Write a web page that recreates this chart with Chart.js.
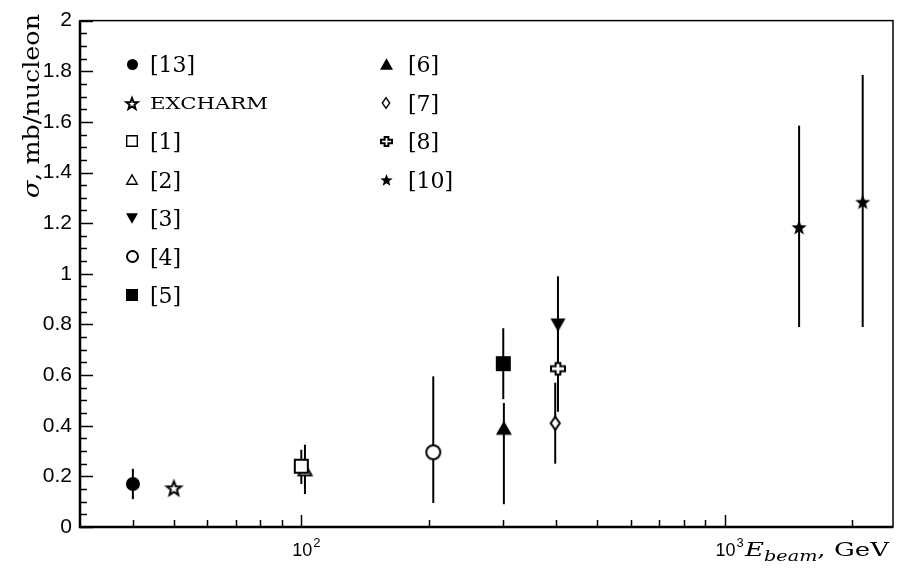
<!DOCTYPE html>
<html>
<head>
<meta charset="utf-8">
<script src="https://cdn.jsdelivr.net/npm/chart.js@4"></script>
<style>
    body { margin: 0; background: #fff; }
</style>
</head>
<body>
<canvas id="sigmaChart" width="903" height="574"></canvas>
<script>
// charm production cross section per nucleon vs beam energy
var seriesNames = ['[13]', 'EXCHARM', '[1]', '[2]', '[3]', '[4]', '[5]', '[6]', '[7]', '[8]', '[10]'];
var seriesEnergy = [[40], [50], [100], [102], [404], [205], [300], [301], [398], [404], [1500, 2120]];
var seriesSigma = [[0.17], [0.155], [0.24], [0.225], [0.80], [0.295], [0.645], [0.39], [0.41], [0.625], [1.185, 1.285]];
var seriesLow = [[0.11], [0.155], [0.17], [0.13], [0.63], [0.095], [0.505], [0.09], [0.25], [0.455], [0.79, 0.79]];
var seriesHigh = [[0.23], [0.155], [0.305], [0.325], [0.99], [0.595], [0.785], [0.49], [0.57], [0.80], [1.585, 1.785]];

var xMajorTicks = [100, 1000];
var xMinorTicks = [40, 50, 60, 70, 80, 90, 200, 300, 400, 500, 600, 700, 800, 900, 2000];
var xTickBase = ['10', '10'];
var xTickExp = ['2', '3'];

// marker look for every series
var markerKinds = ['circle', 'star', 'square', 'triangle', 'triangleDown', 'circle', 'square', 'triangle', 'diamond', 'plus', 'star'];
var markerFilled = [true, false, false, false, true, false, true, true, false, false, true];
var markerSizes = [14, 17, 15, 15, 15, 16, 15, 16, 15, 16, 16];

function makeMarker(kind, filled, size) {
    var n = Math.ceil(size) + 4;
    var c = document.createElement('canvas');
    c.width = n;
    c.height = n;
    var g = c.getContext('2d');
    var m = n / 2;
    g.lineWidth = size >= 13 ? 2 : 1.4;
    g.lineJoin = 'miter';
    g.strokeStyle = '#000';
    g.fillStyle = filled ? '#000' : '#fff';
    var s = size / 2 - (filled ? 0 : g.lineWidth / 2);
    g.beginPath();
    if (kind === 'circle') {
        g.arc(m, m, s, 0, 2 * Math.PI);
    } else if (kind === 'square') {
        g.rect(m - s, m - s, 2 * s, 2 * s);
    } else if (kind === 'triangle' || kind === 'triangleDown') {
        var d = kind === 'triangle' ? 1 : -1;
        g.moveTo(m, m - d * s * 0.95);
        g.lineTo(m + s, m + d * s * 0.8);
        g.lineTo(m - s, m + d * s * 0.8);
        g.closePath();
    } else if (kind === 'diamond') {
        g.moveTo(m, m - s);
        g.lineTo(m + s * 0.7, m);
        g.lineTo(m, m + s);
        g.lineTo(m - s * 0.7, m);
        g.closePath();
    } else if (kind === 'plus') {
        var a = s * 0.34, h = s * 0.82;
        var pts = [[-a, -h], [a, -h], [a, -a], [s, -a], [s, a], [a, a], [a, h], [-a, h], [-a, a], [-s, a], [-s, -a], [-a, -a]];
        g.moveTo(m + pts[0][0], m + pts[0][1]);
        for (var i = 1; i < pts.length; i++) g.lineTo(m + pts[i][0], m + pts[i][1]);
        g.closePath();
    } else if (kind === 'star') {
        for (var k = 0; k < 10; k++) {
            var ang = -Math.PI / 2 + k * Math.PI / 5;
            var rr = k % 2 === 0 ? s : s * 0.42;
            var px = m + rr * Math.cos(ang), py = m + 1 + rr * Math.sin(ang);
            if (k === 0) g.moveTo(px, py); else g.lineTo(px, py);
        }
        g.closePath();
    }
    g.fill();
    if (!filled) g.stroke();
    return c;
}

var plotMarkers = [];
var legendMarkers = [];
for (var i = 0; i < seriesNames.length; i++) {
    plotMarkers.push(makeMarker(markerKinds[i], markerFilled[i], markerSizes[i]));
    legendMarkers.push(makeMarker(markerKinds[i], markerFilled[i], Math.round(markerSizes[i] * 0.8)));
}

var datasets = [];
for (var i = 0; i < seriesNames.length; i++) {
    var pts = [];
    for (var j = 0; j < seriesEnergy[i].length; j++) {
        pts.push({ x: seriesEnergy[i][j], y: seriesSigma[i][j] });
    }
    datasets.push({
        label: seriesNames[i],
        data: pts,
        pointStyle: plotMarkers[i],
        pointRadius: 8,
        showLine: false
    });
}

// horizontally stretched text, the TeX lettering is wide
function drawText(ctx, text, x, y, font, width) {
    ctx.save();
    ctx.font = font;
    var w = ctx.measureText(text).width;
    ctx.translate(x, y);
    if (width) ctx.scale(width / w, 1);
    ctx.fillText(text, 0, 0);
    ctx.restore();
}

function drawRun(ctx, parts, x, y, width) {
    var total = 0;
    parts.forEach(function (p) {
        ctx.font = p.font;
        p.w = ctx.measureText(p.text).width;
        total += p.w;
    });
    var k = width / total;
    ctx.save();
    ctx.translate(x, y);
    ctx.scale(k, 1);
    var cx = 0;
    parts.forEach(function (p) {
        ctx.font = p.font;
        ctx.fillText(p.text, cx, p.dy || 0);
        cx += p.w;
    });
    ctx.restore();
}

var errorBarPlugin = {
    id: 'errorBars',
    beforeDatasetsDraw: function (chart) {
        var ctx = chart.ctx, xs = chart.scales.x, ys = chart.scales.y;
        ctx.save();
        ctx.strokeStyle = '#000';
        ctx.lineWidth = 2;
        for (var i = 0; i < seriesNames.length; i++) {
            for (var j = 0; j < seriesEnergy[i].length; j++) {
                var px = xs.getPixelForValue(seriesEnergy[i][j]);
                ctx.beginPath();
                ctx.moveTo(px, ys.getPixelForValue(seriesLow[i][j]));
                ctx.lineTo(px, ys.getPixelForValue(seriesHigh[i][j]));
                ctx.stroke();
            }
        }
        ctx.restore();
    }
};

var framePlugin = {
    id: 'frame',
    afterDraw: function (chart) {
        var ctx = chart.ctx, a = chart.chartArea, xs = chart.scales.x, ys = chart.scales.y;
        ctx.save();
        ctx.strokeStyle = '#000';
        ctx.fillStyle = '#000';

        // inward ticks on the y axis, minor every 0.05
        ctx.lineWidth = 1.5;
        for (var n = 0; n <= 40; n++) {
            var py = Math.round(ys.getPixelForValue(n * 0.05)) + 0.5;
            var len = n % 4 === 0 ? 13 : 7;
            ctx.beginPath();
            ctx.moveTo(a.left, py);
            ctx.lineTo(a.left + len, py);
            ctx.stroke();
        }
        // inward ticks on the x axis
        xMinorTicks.concat(xMajorTicks).forEach(function (v) {
            var px = Math.round(xs.getPixelForValue(v)) + 0.5;
            var len = xMajorTicks.indexOf(v) >= 0 ? 12 : 7;
            ctx.beginPath();
            ctx.moveTo(px, a.bottom);
            ctx.lineTo(px, a.bottom - len);
            ctx.stroke();
        });

        // decade labels with raised exponent
        xMajorTicks.forEach(function (v, k) {
            var px = xs.getPixelForValue(v);
            ctx.textAlign = 'center';
            ctx.font = '18px "Liberation Sans"';
            ctx.fillText(xTickBase[k], px + 1, a.bottom + 29);
            var bw = ctx.measureText(xTickBase[k]).width;
            ctx.textAlign = 'left';
            ctx.font = '13px "Liberation Sans"';
            ctx.fillText(xTickExp[k], px + 1 + bw / 2 + 1, a.bottom + 20);
        });

        // frame
        ctx.lineWidth = 1.5;
        ctx.strokeRect(a.left, a.top, a.right - a.left, a.bottom - a.top);
        ctx.lineWidth = 2.5;
        ctx.beginPath();
        ctx.moveTo(a.left, a.top);
        ctx.lineTo(a.left, a.bottom);
        ctx.lineTo(a.right, a.bottom);
        ctx.stroke();

        // legend, two columns inside the plot
        ctx.textAlign = 'left';
        for (var i = 0; i < seriesNames.length; i++) {
            var col = i < 7 ? 0 : 1;
            var row = col === 0 ? i : i - 7;
            var cy = 64 + row * 38.5;
            var mx = col === 0 ? 132 : 386;
            var tx = col === 0 ? 150 : 408;
            var mk = legendMarkers[i];
            ctx.drawImage(mk, Math.round(mx - mk.width / 2), Math.round(cy - mk.height / 2));
            if (seriesNames[i] === 'EXCHARM') {
                drawText(ctx, seriesNames[i], tx, cy + 6, '16px "DejaVu Serif"', 118);
            } else {
                drawText(ctx, seriesNames[i], tx, cy + 8, '22px "DejaVu Serif"');
            }
        }

        // axis titles
        ctx.save();
        ctx.translate(39, 198);
        ctx.rotate(-Math.PI / 2);
        drawRun(ctx, [
            { text: 'σ', font: 'italic 23px "DejaVu Serif"' },
            { text: ', mb/nucleon', font: '23px "DejaVu Serif"' }
        ], 0, 0, 184);
        ctx.restore();

        drawRun(ctx, [
            { text: 'E', font: 'italic 19px "DejaVu Serif"' },
            { text: 'beam', font: 'italic 14px "DejaVu Serif"', dy: 5 },
            { text: ', GeV', font: '19px "DejaVu Serif"' }
        ], 745, 556, 144);

        ctx.restore();
    }
};

var ctx = document.getElementById('sigmaChart');
var sigmaChart = new Chart(ctx, {
    type: 'scatter',
    data: { datasets: datasets },
    plugins: [errorBarPlugin, framePlugin],
    options: {
        responsive: false,
        devicePixelRatio: 1,
        animation: false,
        events: [],
        layout: { padding: { top: 12, right: 10, left: 0, bottom: 0 } },
        plugins: {
            legend: { display: false },
            tooltip: { enabled: false }
        },
        scales: {
            x: {
                type: 'logarithmic',
                min: 30,
                max: 2500,
                grid: { display: false, drawTicks: false },
                border: { display: false },
                afterBuildTicks: function (scale) {
                    scale.ticks = xMajorTicks.map(function (v) { return { value: v }; });
                },
                afterFit: function (scale) { scale.height = 47; },
                ticks: { display: false }
            },
            y: {
                min: 0,
                max: 2,
                grid: { display: false, drawTicks: false },
                border: { display: false },
                afterFit: function (scale) { scale.width = 80; },
                ticks: {
                    stepSize: 0.2,
                    padding: 8,
                    color: '#000',
                    font: { family: '"Liberation Sans"', size: 21 },
                    callback: function (v) { return String(+v.toFixed(1)); }
                }
            }
        }
    }
});
</script>
</body>
</html>
